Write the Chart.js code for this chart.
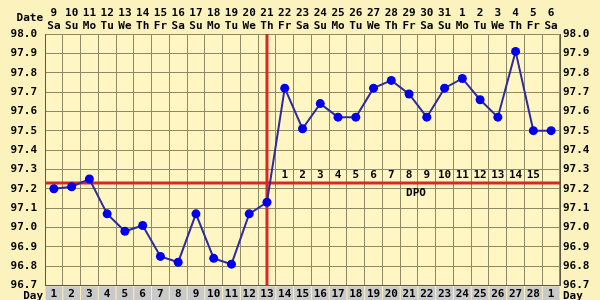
<!DOCTYPE html>
<html>
<head>
<meta charset="utf-8">
<script src="https://cdn.jsdelivr.net/npm/chart.js@4/dist/chart.umd.min.js"></script>
<style>
  html, body { margin: 0; padding: 0; background: #fcf2bd; }
  canvas { display: block; }
</style>
</head>
<body>
<canvas id="bbtChart" width="600" height="300"></canvas>
<script>
// dados do gráfico
const dates = ["9","10","11","12","13","14","15","16","17","18","19","20","21","22","23","24","25","26","27","28","29","30","31","1","2","3","4","5","6"];
const weekdays = ["Sa","Su","Mo","Tu","We","Th","Fr","Sa","Su","Mo","Tu","We","Th","Fr","Sa","Su","Mo","Tu","We","Th","Fr","Sa","Su","Mo","Tu","We","Th","Fr","Sa"];
const cycleDays = ["1","2","3","4","5","6","7","8","9","10","11","12","13","14","15","16","17","18","19","20","21","22","23","24","25","26","27","28","1"];
const temps = [97.20, 97.21, 97.25, 97.07, 96.98, 97.01, 96.85, 96.82, 97.07, 96.84, 96.81, 97.07, 97.13,
               97.72, 97.51, 97.64, 97.57, 97.57, 97.72, 97.76, 97.69, 97.57, 97.72, 97.77, 97.66, 97.57, 97.91, 97.50, 97.50];
const coverline = 97.23;
const ovulationIndex = 12;   // dia 13 do ciclo
const dpoLabels = ["1","2","3","4","5","6","7","8","9","10","11","12","13","14","15"];
const yMin = 96.7, yMax = 98.0;

const FONT = "'DejaVu Sans Mono', monospace";
const tickFont = { family: FONT, size: 11, weight: "bold" };

// fundo, linhas vermelhas e textos extras
const bbtPlugin = {
  id: "bbtPlugin",
  beforeDraw(chart) {
    const { ctx, chartArea: a, scales } = chart;
    ctx.save();
    ctx.fillStyle = "#fcf2bd";
    ctx.fillRect(0, 0, chart.width, chart.height);
    ctx.fillStyle = "#fff6c4";
    ctx.fillRect(a.left, a.top, a.right - a.left, a.bottom - a.top);
    // linha de dias do ciclo (células cinzas)
    const x = scales.x;
    const w = x.getPixelForValue(1) - x.getPixelForValue(0);
    cycleDays.forEach((d, i) => {
      const cx = x.getPixelForValue(i);
      ctx.fillStyle = "#c9c9c9";
      ctx.fillRect(cx - w / 2 + 0.5, a.bottom + 1, w - 1, chart.height - a.bottom);
    });
    ctx.restore();
  },
  beforeDatasetsDraw(chart) {
    const { ctx, chartArea: a, scales } = chart;
    const x = scales.x, y = scales.y;
    ctx.save();
    ctx.strokeStyle = "#d42a24";
    ctx.lineWidth = 3;
    const cy = y.getPixelForValue(coverline);
    ctx.beginPath();
    ctx.moveTo(a.left, cy);
    ctx.lineTo(a.right, cy);
    ctx.stroke();
    const ox = x.getPixelForValue(ovulationIndex);
    ctx.beginPath();
    ctx.moveTo(ox, a.top);
    ctx.lineTo(ox, a.bottom);
    ctx.stroke();
    // números DPO
    ctx.fillStyle = "#000";
    ctx.font = "bold 11px " + FONT;
    ctx.textAlign = "center";
    ctx.textBaseline = "middle";
    dpoLabels.forEach((t, i) => {
      ctx.fillText(t, x.getPixelForValue(ovulationIndex + 1 + i), cy - 8);
    });
    ctx.textAlign = "left";
    ctx.fillText("DPO", x.getPixelForValue(ovulationIndex + 8) - 3, cy + 10);
    ctx.restore();
  },
  afterDraw(chart) {
    const { ctx, chartArea: a } = chart;
    ctx.save();
    ctx.fillStyle = "#000";
    ctx.font = "bold 11px " + FONT;
    ctx.textBaseline = "middle";
    ctx.textAlign = "right";
    ctx.fillText("Date", a.left - 2, 18);
    ctx.fillText("Day", a.left - 2, 296);
    ctx.textAlign = "left";
    ctx.fillText("Day", a.right + 3, 296);
    ctx.restore();
  }
};

const ctx = document.getElementById("bbtChart").getContext("2d");
new Chart(ctx, {
  type: "line",
  data: {
    labels: cycleDays,
    datasets: [{
      data: temps,
      xAxisID: "x",
      yAxisID: "y",
      borderColor: "#2c2c9e",
      borderWidth: 2,
      pointRadius: 4.5,
      pointBackgroundColor: "#0000ee",
      pointBorderColor: "#0000ee",
      pointBorderWidth: 0,
      tension: 0
    }]
  },
  options: {
    responsive: false,
    animation: false,
    layout: { padding: 0 },
    plugins: { legend: { display: false }, tooltip: { enabled: false } },
    scales: {
      x: {
        type: "category",
        position: "bottom",
        offset: true,
        grid: { color: "#8e8a66", drawTicks: false, offset: true },
        border: { color: "#5c5a44" },
        ticks: { font: tickFont, color: "#000", padding: 2, maxRotation: 0, autoSkip: false },
        afterFit: (s) => { s.height = 14.5; }
      },
      xTop: {
        type: "category",
        position: "top",
        labels: dates.map((d, i) => [d, weekdays[i]]),
        offset: true,
        grid: { display: false, drawTicks: false },
        border: { display: false },
        ticks: { font: { ...tickFont, lineHeight: 1.2 }, color: "#000", padding: 1, maxRotation: 0, autoSkip: false },
        afterFit: (s) => { s.height = 34; }
      },
      y: {
        position: "left",
        min: yMin,
        max: yMax,
        grid: { color: "#8e8a66", drawTicks: false },
        border: { color: "#5c5a44" },
        ticks: { stepSize: 0.1, font: tickFont, color: "#000", padding: 8, callback: (v) => v.toFixed(1) },
        afterFit: (s) => { s.width = 45; }
      },
      yRight: {
        position: "right",
        min: yMin,
        max: yMax,
        grid: { display: false, drawTicks: false },
        border: { color: "#5c5a44" },
        ticks: { stepSize: 0.1, font: tickFont, color: "#000", padding: 3, callback: (v) => v.toFixed(1) },
        afterFit: (s) => { s.width = 40; }
      }
    }
  },
  plugins: [bbtPlugin]
});
</script>
</body>
</html>
